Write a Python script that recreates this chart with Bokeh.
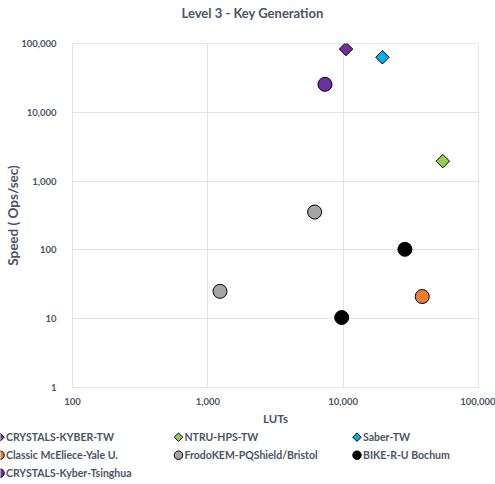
import numpy as np
from bokeh.plotting import figure
from bokeh.layouts import column
from bokeh.core.properties import value
from bokeh.models import FixedTicker, NumeralTickFormatter
from bokeh.embed import file_html
from bokeh.resources import INLINE

# LUT count vs key-generation speed for Level 3 implementations
kyber_tw_luts = [10500]
kyber_tw_speed = [83000]
ntru_luts = [54500]
ntru_speed = [1950]
saber_luts = [19500]
saber_speed = [63000]
mceliece_luts = [38400]
mceliece_speed = [21]
frodo_luts = [6150, 1230]
frodo_speed = [355, 25]
bike_luts = [28600, 9750]
bike_speed = [102, 10.4]
kyber_th_luts = [7340]
kyber_th_speed = [25500]

x_ticks = [100, 1000, 10000, 100000]
y_ticks = [1, 10, 100, 1000, 10000, 100000]

TITLE = "Level 3 - Key Generation"
FONT = "Lato"
TEXT = "#4a5466"
GRID = "#dfe3ea"
W = 495


def strip(height):
    """Axis-less figure whose data units are pixels (y grows downwards)."""
    f = figure(width=W, height=height, x_axis_type=None, y_axis_type=None,
               x_range=(0, W), y_range=(height, 0),
               output_backend="svg", toolbar_location=None,
               min_border_left=0, min_border_right=0,
               min_border_top=0, min_border_bottom=0)
    f.frame_align = False
    f.outline_line_color = None
    f.grid.visible = False
    return f


# title strip
ts = strip(24)
ts.text(x=[181], y=[12], text=[TITLE], text_font=value(FONT),
        text_font_size="13px", text_font_style="bold", text_color=TEXT,
        text_baseline="middle", text_align="left")

# main chart
p = figure(width=W, height=406, x_axis_type="log", y_axis_type="log",
           x_range=(100, 100000), y_range=(1, 100000),
           output_backend="svg", toolbar_location=None,
           min_border_left=72, min_border_right=17,
           min_border_top=19, min_border_bottom=43)
p.frame_align = False
p.outline_line_color = GRID
p.background_fill_color = "white"

for ax, ticks in ((p.xaxis, x_ticks), (p.yaxis, y_ticks)):
    ax.ticker = FixedTicker(ticks=ticks)
    ax.formatter = NumeralTickFormatter(format="0,0")
    ax.major_tick_line_color = None
    ax.minor_tick_line_color = None
    ax.axis_line_color = GRID
    ax.major_label_text_font = FONT
    ax.major_label_text_font_size = "9.5px"
    ax.major_label_text_font_style = "bold"
    ax.major_label_text_color = TEXT
    ax.axis_label_text_font = FONT
    ax.axis_label_text_font_style = "bold"
    ax.axis_label_text_color = TEXT

p.xaxis.axis_label = "LUTs"
p.yaxis.axis_label = "Speed ( Ops/sec)"
p.xaxis.axis_label_text_font_size = "11.5px"
p.yaxis.axis_label_text_font_size = "13.5px"
p.xaxis.major_label_standoff = 4
p.xaxis.axis_label_standoff = 4
p.yaxis.major_label_standoff = 10
p.yaxis.axis_label_standoff = -3

p.xgrid.ticker = FixedTicker(ticks=x_ticks)
p.ygrid.ticker = FixedTicker(ticks=y_ticks)
p.xgrid.grid_line_color = GRID
p.ygrid.grid_line_color = GRID
p.xgrid.minor_grid_line_color = None
p.ygrid.minor_grid_line_color = None

DIAMOND = dict(marker="square", angle=np.pi / 4, line_color="black", line_width=1)
CIRCLE = dict(marker="circle", line_color="black", line_width=1)

# (label, x values, y values, fill, marker style, chart size, key size)
series = [
    ("CRYSTALS-KYBER-TW", kyber_tw_luts, kyber_tw_speed, "#7030A0", DIAMOND, 9.5, 6),
    ("NTRU-HPS-TW", ntru_luts, ntru_speed, "#92D050", DIAMOND, 9.5, 6),
    ("Saber-TW", saber_luts, saber_speed, "#00B0F0", DIAMOND, 9.5, 6),
    ("Classic McEliece-Yale U.", mceliece_luts, mceliece_speed, "#ED7D31", CIRCLE, 14, 8.5),
    ("FrodoKEM-PQShield/Bristol", frodo_luts, frodo_speed, "#A5A5A5", CIRCLE, 14, 8.5),
    ("BIKE-R-U Bochum", bike_luts, bike_speed, "black", CIRCLE, 14, 8.5),
    (" CRYSTALS-Kyber-Tsinghua", kyber_th_luts, kyber_th_speed, "#7030A0", CIRCLE, 14, 8.5),
]

for name, xs, ys, color, style, size, _ in series:
    p.scatter(xs, ys, fill_color=color, size=size, **style)

# legend strip under the chart, three entries per row
lg = strip(54)
COL_STEP, ROW_STEP = 178.5, 18
KEY_X0, ROW_Y0, TEXT_GAP = -0.5, 6.7, 6
label_x, label_y, label_txt = [], [], []
for i, (name, xs, ys, color, style, _, key_size) in enumerate(series):
    kx = KEY_X0 + (i % 3) * COL_STEP
    ky = ROW_Y0 + (i // 3) * ROW_STEP
    lg.scatter([kx], [ky], fill_color=color, size=key_size, **style)
    label_x.append(kx + TEXT_GAP)
    label_y.append(ky)
    label_txt.append(name)

lg.text(x=label_x, y=label_y, text=label_txt,
        text_font=value(FONT), text_font_size="10.5px", text_font_style="bold",
        text_color=TEXT, text_baseline="middle", text_align="left")

open("out.html", "w").write(file_html(column(ts, p, lg, spacing=0), INLINE))
